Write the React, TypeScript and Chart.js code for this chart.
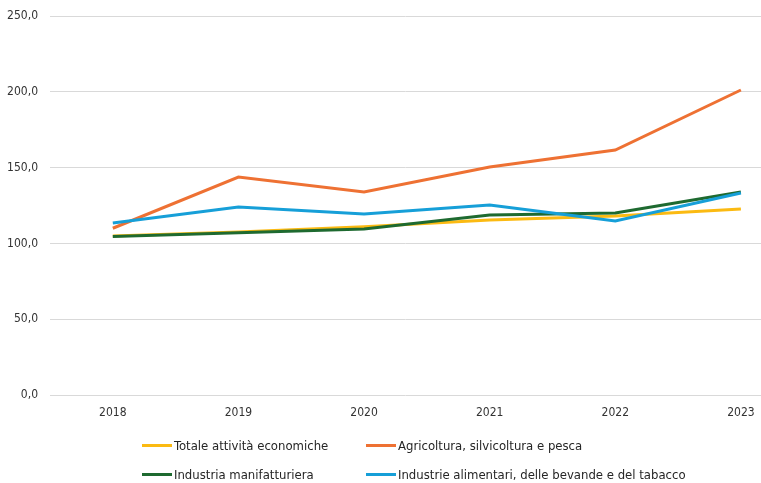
import React, { useEffect, useRef } from "react";
import { Chart, registerables } from "chart.js";

Chart.register(...registerables);

const years = [2018, 2019, 2020, 2021, 2022, 2023];
const totale = [104.9, 107.5, 111.0, 115.4, 118.0, 122.7];
const agricoltura = [110.0, 143.8, 133.9, 150.4, 161.6, 201.2];
const manifatturiera = [104.5, 107.0, 109.5, 118.7, 120.0, 133.9];
const alimentari = [113.5, 124.0, 119.4, 125.3, 114.8, 133.2];
const yTicks = [0, 50, 100, 150, 200, 250];

const seriesNames = [
  "Totale attività economiche",
  "Agricoltura, silvicoltura e pesca",
  "Industria manifatturiera",
  "Industrie alimentari, delle bevande e del tabacco",
];
const colors = ["#FBBA12", "#EE7133", "#1E6A30", "#169FD8"];

const FONT = "'DejaVu Sans Condensed', 'DejaVu Sans', sans-serif";

export default function App() {
  const ref = useRef<HTMLCanvasElement | null>(null);

  useEffect(() => {
    document.body.style.margin = "0";
    if (!ref.current) return;
    const series = [totale, agricoltura, manifatturiera, alimentari];
    const orders = [4, 3, 2, 1];
    const chart = new Chart(ref.current, {
      type: "line",
      data: {
        datasets: series.map((s, i) => ({
          label: seriesNames[i],
          data: s.map((v, j) => ({ x: years[j], y: v })),
          borderColor: colors[i],
          backgroundColor: colors[i],
          borderWidth: 3,
          pointRadius: 0,
          tension: 0,
          order: orders[i],
        })),
      },
      options: {
        animation: false,
        responsive: false,
        maintainAspectRatio: false,
        layout: { padding: { top: 16, right: 0, left: 0, bottom: 0 } },
        plugins: { legend: { display: false }, tooltip: { enabled: false } },
        scales: {
          x: {
            type: "linear",
            min: 2017.5,
            max: 2023.16,
            grid: { display: false, drawTicks: false },
            border: { display: false },
            afterBuildTicks: (s: any) => {
              s.ticks = years.map((y) => ({ value: y }));
            },
            ticks: {
              autoSkip: false,
              maxRotation: 0,
              padding: 11,
              color: "#333333",
              font: { family: FONT, size: 12 },
              callback: (v: any) => String(v),
            },
            afterFit: (s: any) => {
              s.height = 483 - 395;
              s.paddingLeft = 0;
              s.paddingRight = 0;
            },
          },
          y: {
            min: 0,
            max: 250,
            grid: { color: "#D9D9D9", lineWidth: 1, drawTicks: false },
            border: { display: false },
            afterBuildTicks: (s: any) => {
              s.ticks = yTicks.map((v) => ({ value: v }));
            },
            ticks: {
              padding: 12,
              color: "#333333",
              font: { family: FONT, size: 12 },
              callback: (v: any) => Number(v).toFixed(1).replace(".", ","),
            },
            afterFit: (s: any) => {
              s.width = 50;
              s.paddingTop = 0;
              s.paddingBottom = 0;
            },
          },
        },
      },
    });
    return () => chart.destroy();
  }, []);

  const legendItem = (i: number, left: number, top: number) => (
    <div
      key={i}
      style={{
        position: "absolute",
        left,
        top,
        display: "flex",
        alignItems: "center",
        fontFamily: FONT,
        fontSize: 13,
        color: "#262626",
        whiteSpace: "nowrap",
      }}
    >
      <span
        style={{
          display: "inline-block",
          width: 30,
          height: 3,
          background: colors[i],
          marginRight: 2,
        }}
      />
      {seriesNames[i]}
    </div>
  );

  return (
    <div style={{ position: "relative", width: 761, height: 483 }}>
      <canvas ref={ref} width={761} height={483} style={{ display: "block" }} />
      {legendItem(0, 142, 438)}
      {legendItem(1, 366, 438)}
      {legendItem(2, 142, 467)}
      {legendItem(3, 366, 467)}
    </div>
  );
}
